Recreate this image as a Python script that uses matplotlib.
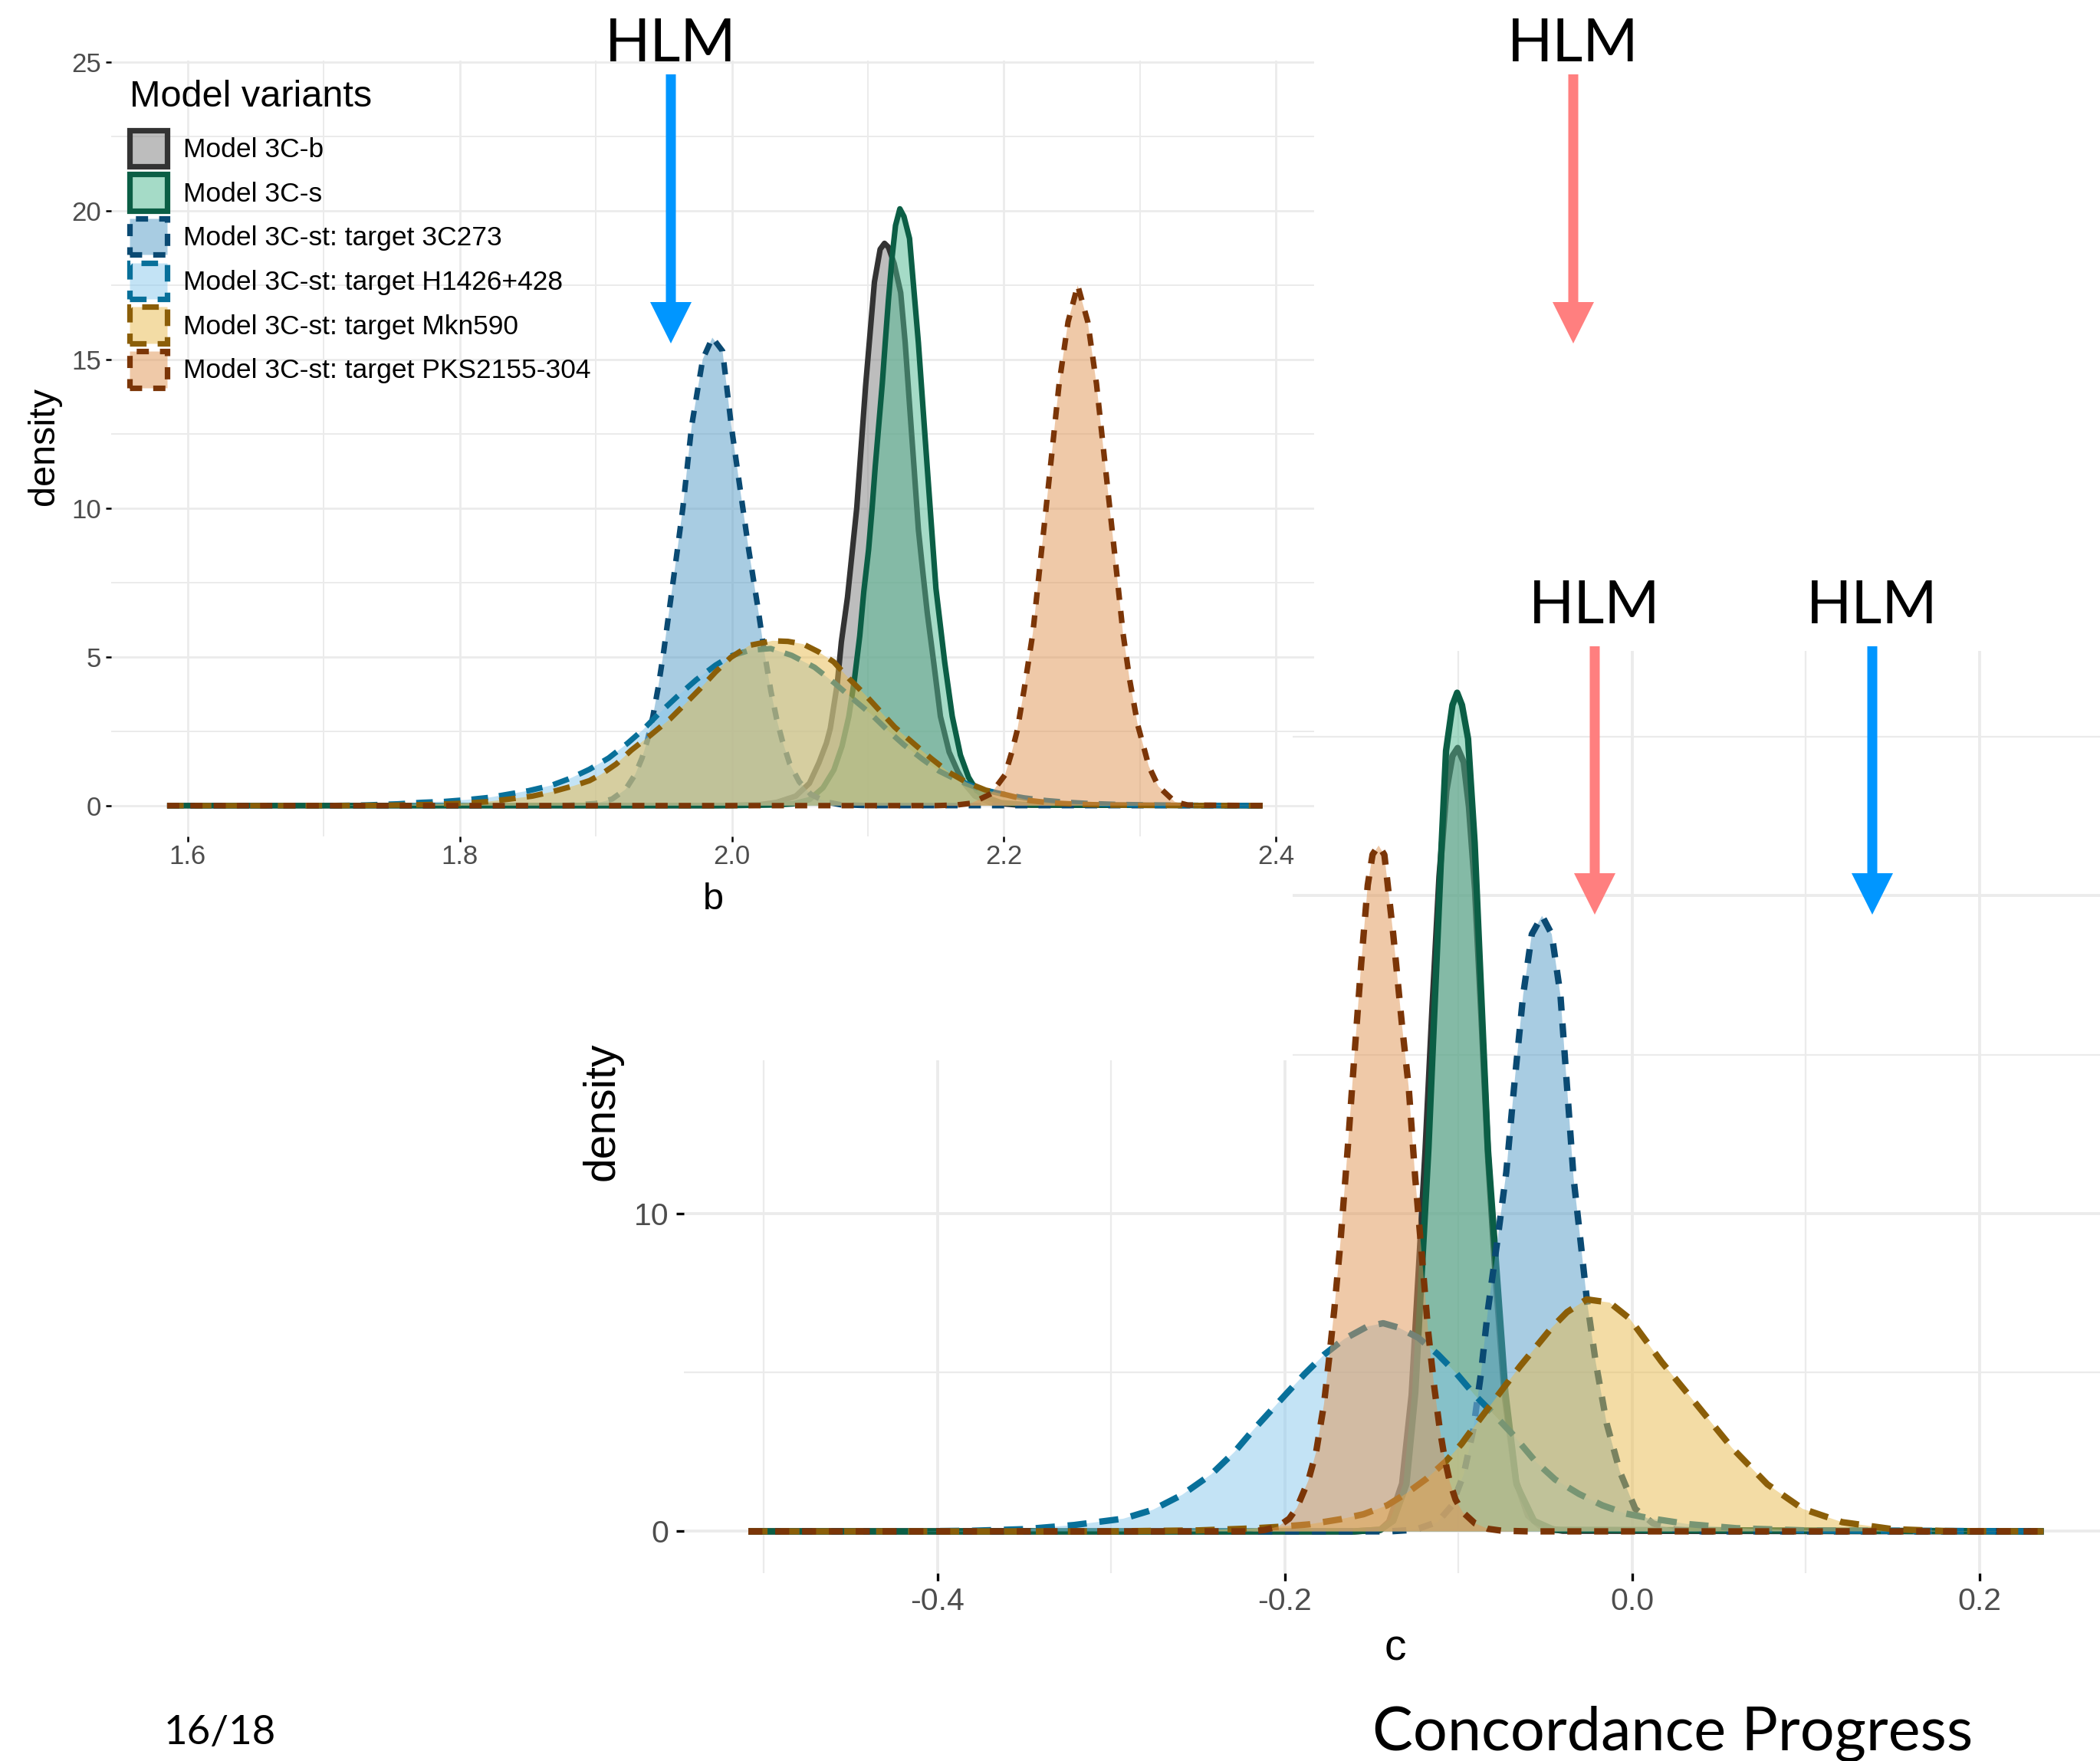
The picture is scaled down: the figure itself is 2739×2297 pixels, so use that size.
import matplotlib
matplotlib.use("Agg")
import matplotlib.pyplot as plt
from matplotlib.patches import Rectangle, FancyArrow, Patch
from matplotlib.ticker import FixedLocator, FixedFormatter
from matplotlib.colors import to_rgba

plt.rcParams['font.family'] = ['Liberation Sans', 'DejaVu Sans']
plt.rcParams['axes.unicode_minus'] = False

W, H, DPI = 2739, 2297, 100

# ---------------- data ----------------
groups = ["Model 3C-b", "Model 3C-s", "Model 3C-st: target 3C273",
          "Model 3C-st: target H1426+428", "Model 3C-st: target Mkn590",
          "Model 3C-st: target PKS2155-304"]

# parameter b densities
b_3Cb_x = [1.585, 1.99, 2.02, 2.033, 2.047, 2.057, 2.064, 2.0695, 2.0724, 2.0775, 2.0805, 2.085, 2.0918, 2.0983,
           2.1048, 2.109, 2.1122, 2.1151, 2.1193, 2.1241, 2.1274, 2.1306, 2.1339, 2.1371, 2.1403, 2.1436, 2.1484,
           2.1533, 2.1597, 2.166, 2.1716, 2.1786, 2.19, 2.21, 2.39]
b_3Cb_y = [0, 0, 0.03, 0.11, 0.32, 0.75, 1.44, 2.1, 2.6, 4.1, 5.5, 7.0, 10.0, 14.1, 17.6, 18.7, 18.9, 18.77, 18.22,
           17.24, 15.56, 13.47, 11.37, 9.28, 7.88, 6.49, 4.8, 3.0, 1.8, 1.15, 0.7, 0.32, 0.1, 0.02, 0]

b_3Cs_x = [1.585, 2.00, 2.030, 2.045, 2.057, 2.067, 2.075, 2.081, 2.086, 2.090, 2.094, 2.097, 2.1005, 2.1031, 2.1054,
           2.108, 2.1106, 2.1128, 2.1151, 2.1177, 2.1203, 2.1235, 2.1265, 2.1306, 2.1371, 2.1436, 2.150, 2.1565,
           2.162, 2.168, 2.174, 2.180, 2.187, 2.198, 2.22, 2.39]
b_3Cs_y = [0, 0, 0.02, 0.06, 0.2, 0.6, 1.2, 2.0, 3.0, 4.2, 5.7, 7.2, 8.6, 10.0, 11.4, 12.8, 14.2, 15.6, 17.0, 18.4,
           19.5, 20.06, 19.8, 19.06, 15.56, 11.37, 7.3, 4.8, 3.0, 1.7, 0.95, 0.5, 0.28, 0.1, 0.02, 0]

b_3C273_x = [1.585, 1.86, 1.88, 1.900, 1.912, 1.922, 1.929, 1.934, 1.938, 1.942, 1.946, 1.950, 1.955, 1.960, 1.964,
             1.9705, 1.9786, 1.9857, 1.9932, 1.9996, 2.006, 2.0125, 2.019, 2.0238, 2.0287, 2.033, 2.037, 2.0426,
             2.0496, 2.058, 2.069, 2.08, 2.10, 2.39]
b_3C273_y = [0, 0, 0.01, 0.07, 0.22, 0.55, 1.05, 1.6, 2.2, 3.0, 4.0, 5.2, 6.9, 8.6, 10.0, 12.77, 15.0, 15.73, 15.28,
             12.77, 10.68, 8.58, 6.7, 5.2, 3.85, 2.9, 2.2, 1.4, 0.8, 0.38, 0.13, 0.03, 0, 0]

b_H1426_x = [1.585, 1.70, 1.73, 1.755, 1.7721, 1.7889, 1.8057, 1.8226, 1.8366, 1.8506, 1.8674, 1.8814, 1.8954,
             1.9095, 1.9235, 1.9347, 1.9459, 1.9599, 1.9739, 1.9880, 1.9992, 2.0132, 2.0286, 2.0440, 2.0608, 2.0749,
             2.0889, 2.1029, 2.1141, 2.1263, 2.1404, 2.1524, 2.1665, 2.1826, 2.1987, 2.2148, 2.2309, 2.2470, 2.2631,
             2.2832, 2.31, 2.34, 2.39]
b_H1426_y = [0, 0, 0.02, 0.06, 0.11, 0.14, 0.2, 0.28, 0.39, 0.5, 0.68, 0.92, 1.22, 1.6, 2.1, 2.55, 3.07, 3.67, 4.23,
             4.72, 5.03, 5.22, 5.28, 5.05, 4.65, 4.14, 3.59, 3.05, 2.55, 2.05, 1.55, 1.16, 0.84, 0.56, 0.39, 0.26,
             0.17, 0.11, 0.07, 0.04, 0.02, 0.01, 0]

b_Mkn590_x = [1.585, 1.70, 1.74, 1.7721, 1.7861, 1.8029, 1.8198, 1.8366, 1.8534, 1.8674, 1.8842, 1.8954, 1.9039,
              1.9151, 1.9263, 1.9403, 1.9543, 1.9655, 1.9767, 1.9880, 1.9992, 2.0132, 2.0300, 2.0412, 2.0524, 2.0637,
              2.0749, 2.0861, 2.0973, 2.1085, 2.1197, 2.1343, 2.1464, 2.1595, 2.1726, 2.1866, 2.2028, 2.2189, 2.2349,
              2.2531, 2.2732, 2.30, 2.39]
b_Mkn590_y = [0, 0, 0.01, 0.03, 0.05, 0.08, 0.13, 0.22, 0.32, 0.46, 0.67, 0.84, 1.05, 1.4, 1.87, 2.37, 2.9, 3.41,
              3.93, 4.49, 4.98, 5.39, 5.54, 5.52, 5.43, 5.17, 4.83, 4.27, 3.76, 3.2, 2.64, 2.06, 1.59, 1.12, 0.78,
              0.52, 0.35, 0.17, 0.09, 0.05, 0.02, 0.01, 0]

b_PKS_x = [1.585, 2.15, 2.165, 2.176, 2.1905, 2.2007, 2.2058, 2.2098, 2.2148, 2.2212, 2.226, 2.2309, 2.2357, 2.2405,
           2.2471, 2.2542, 2.2616, 2.268, 2.2729, 2.2778, 2.2827, 2.2875, 2.2923, 2.2983, 2.3024, 2.3064, 2.3134,
           2.3255, 2.335, 2.39]
b_PKS_y = [0, 0, 0.02, 0.08, 0.4, 1.03, 1.81, 2.54, 3.9, 5.79, 7.88, 9.98, 12.07, 14.17, 16.26, 17.49, 16.26, 14.17,
           12.07, 9.98, 7.88, 5.79, 4.25, 2.71, 2.02, 1.33, 0.65, 0.13, 0.02, 0]

# parameter c densities
c_3Cb_x = [-0.509, -0.16, -0.145, -0.14, -0.1325, -0.127, -0.123, -0.119, -0.115, -0.111, -0.107, -0.1035, -0.1005,
           -0.097, -0.094, -0.0905, -0.0869, -0.083, -0.0785, -0.0735, -0.067, -0.06, -0.052, -0.04, 0.237]
c_3Cb_y = [0, 0, 0.05, 0.3, 1.5, 4.3, 8.1, 12.0, 16.5, 20.6, 23.3, 24.4, 24.65, 24.2, 22.8, 20.2, 16.3, 11.8, 7.9,
           4.3, 1.6, 0.5, 0.12, 0.02, 0]

c_3Cs_x = [-0.509, -0.16, -0.145, -0.1376, -0.13, -0.1249, -0.1211, -0.1173, -0.1135, -0.1097, -0.1072, -0.1035,
           -0.1008, -0.098, -0.0945, -0.0907, -0.0869, -0.0831, -0.0781, -0.073, -0.0666, -0.0565, -0.045, 0.237]
c_3Cs_y = [0, 0, 0.05, 0.33, 1.48, 4.37, 8.21, 12.06, 16.87, 21.67, 24.56, 26.0, 26.39, 26.0, 24.94, 21.67, 16.87,
           12.06, 8.21, 4.37, 1.48, 0.33, 0.05, 0]

c_3C273_x = [-0.509, -0.14, -0.125, -0.112, -0.104, -0.097, -0.0915, -0.087, -0.083, -0.0775, -0.0725, -0.068,
             -0.0628, -0.0578, -0.0519, -0.0463, -0.0413, -0.0375, -0.0337, -0.0298, -0.026, -0.021, -0.0147,
             -0.007, 0.0018, 0.012, 0.025, 0.04, 0.237]
c_3C273_y = [0, 0, 0.05, 0.3, 0.8, 1.8, 3.2, 5.0, 7.0, 9.2, 11.3, 13.98, 16.87, 18.79, 19.37, 18.79, 16.87, 13.98,
             11.1, 9.17, 7.25, 5.33, 3.4, 1.87, 0.71, 0.25, 0.05, 0, 0]

c_H1426_x = [-0.509, -0.42, -0.38, -0.35, -0.3214, -0.293, -0.276, -0.2592, -0.2423, -0.229, -0.2189, -0.2087,
             -0.1997, -0.1885, -0.1772, -0.1659, -0.1524, -0.1434, -0.1344, -0.1231, -0.1119, -0.1017, -0.0905,
             -0.0803, -0.0691, -0.0555, -0.0443, -0.0307, -0.0172, -0.0037, 0.0094, 0.0322, 0.06, 0.10, 0.237]
c_H1426_y = [0, 0, 0.02, 0.07, 0.2, 0.4, 0.68, 1.15, 1.8, 2.5, 3.15, 3.76, 4.3, 4.96, 5.57, 6.05, 6.45, 6.55, 6.41,
             6.09, 5.57, 5.0, 4.28, 3.72, 3.07, 2.19, 1.63, 1.18, 0.82, 0.56, 0.42, 0.23, 0.1, 0.03, 0]

c_Mkn590_x = [-0.509, -0.30, -0.25, -0.22, -0.2042, -0.1862, -0.1682, -0.1547, -0.1411, -0.1299, -0.1186, -0.1074,
              -0.0983, -0.0916, -0.0826, -0.0736, -0.0645, -0.0555, -0.0465, -0.0375, -0.0262, -0.013, -0.0015,
              0.017, 0.0373, 0.0575, 0.0779, 0.0982, 0.121, 0.15, 0.18, 0.237]
c_Mkn590_y = [0, 0, 0.03, 0.09, 0.14, 0.22, 0.38, 0.54, 0.82, 1.2, 1.65, 2.2, 2.75, 3.25, 3.9, 4.55, 5.2, 5.8, 6.4,
              6.9, 7.3, 7.2, 6.7, 5.33, 3.98, 2.63, 1.48, 0.71, 0.29, 0.07, 0.01, 0]

c_PKS_x = [-0.509, -0.22, -0.212, -0.204, -0.1975, -0.193, -0.1865, -0.182, -0.1775, -0.1742, -0.1715, -0.168,
           -0.1638, -0.16, -0.1561, -0.1523, -0.1495, -0.146, -0.1427, -0.1376, -0.1325, -0.1287, -0.1249, -0.121,
           -0.1175, -0.1141, -0.111, -0.108, -0.105, -0.1017, -0.0975, -0.0905, -0.083, -0.075, -0.06, 0.237]
c_PKS_y = [0, 0, 0.04, 0.15, 0.4, 0.75, 1.6, 2.5, 4.0, 5.6, 7.0, 9.1, 12.06, 14.94, 17.83, 20.33, 21.3, 21.58, 21.29,
           18.79, 15.9, 13.98, 11.1, 8.6, 6.3, 4.6, 3.3, 2.3, 1.55, 1.0, 0.6, 0.25, 0.08, 0.02, 0, 0]

b_ticks = [1.6, 1.8, 2.0, 2.2, 2.4]
b_tick_labels = ["1.6", "1.8", "2.0", "2.2", "2.4"]
b_minor = [1.7, 1.9, 2.1, 2.3]
b_dens_ticks = [0, 5, 10, 15, 20, 25]
b_dens_labels = ["0", "5", "10", "15", "20", "25"]
b_dens_minor = [2.5, 7.5, 12.5, 17.5, 22.5]

c_ticks = [-0.4, -0.2, 0.0, 0.2]
c_tick_labels = ["-0.4", "-0.2", "0.0", "0.2"]
c_minor = [-0.5, -0.3, -0.1, 0.1]
c_dens_ticks = [0, 10, 20]
c_dens_labels = ["0", "10", "20"]
c_dens_minor = [5, 15, 25]

# ---------------- styles ----------------
line_colors = ["#333333", "#0B5E45", "#0A4A73", "#08709A", "#8B5E08", "#7B3507"]
fill_colors = ["#7D7D7D", "#4DB991", "#539BC7", "#89C9ED", "#E9BB4D", "#E19553"]
DOT = (0, (2.2, 2.0))
DASH = (0, (3.0, 2.0))
line_styles = ["solid", "solid", DOT, DASH, DASH, DOT]
GRID = "#EBEBEB"
TICKLAB = "#4D4D4D"
LW_B = 5.2
LW_C = 6.0

fig = plt.figure(figsize=(W / DPI, H / DPI), dpi=DPI)
fig.patch.set_facecolor("white")


def px_rect(left, top, right, bottom):
    return [left / W, 1 - bottom / H, (right - left) / W, (bottom - top) / H]


def draw_densities(ax, xs, ys, lw):
    for i, (x, y) in enumerate(zip(xs, ys)):
        ax.fill_between(x, 0, y, facecolor=fill_colors[i], alpha=0.5, linewidth=0, zorder=2 + 2 * i)
        ax.plot(x, y, color=line_colors[i], lw=lw, linestyle=line_styles[i], zorder=3 + 2 * i,
                solid_joinstyle="round", dash_capstyle="butt", solid_capstyle="butt")


def style_axes(ax, xt, xl, xm, yt, yl, ym, fs, gmaj, gmin, tlen, tw, padx, pady):
    for s in ax.spines.values():
        s.set_visible(False)
    ax.xaxis.set_major_locator(FixedLocator(xt))
    ax.xaxis.set_major_formatter(FixedFormatter(xl))
    ax.xaxis.set_minor_locator(FixedLocator(xm))
    ax.yaxis.set_major_locator(FixedLocator(yt))
    ax.yaxis.set_major_formatter(FixedFormatter(yl))
    ax.yaxis.set_minor_locator(FixedLocator(ym))
    ax.grid(which="major", color=GRID, lw=gmaj)
    ax.grid(which="minor", color=GRID, lw=gmin)
    ax.set_axisbelow(True)
    ax.tick_params(which="major", length=tlen, width=tw, color="black", labelcolor=TICKLAB, labelsize=fs)
    ax.tick_params(which="minor", length=0)
    ax.tick_params(axis="x", which="major", pad=padx)
    ax.tick_params(axis="y", which="major", pad=pady)


# ---------------- bottom panel (c) ----------------
ax_c = fig.add_axes(px_rect(891.6, 848.8, 2750, 2052.2))
ax_c.set_zorder(1)
draw_densities(ax_c, [c_3Cb_x, c_3Cs_x, c_3C273_x, c_H1426_x, c_Mkn590_x, c_PKS_x],
               [c_3Cb_y, c_3Cs_y, c_3C273_y, c_H1426_y, c_Mkn590_y, c_PKS_y], lw=LW_C)
ax_c.set_xlim(-0.5463, 0.2743)
ax_c.set_ylim(-1.32, 27.71)
style_axes(ax_c, c_ticks, c_tick_labels, c_minor, c_dens_ticks, c_dens_labels, c_dens_minor,
           fs=29.5, gmaj=2.7, gmin=1.6, tlen=7, tw=2.4, padx=5.5, pady=7)
ax_c.set_xlabel("c", fontsize=41, color="black")
ax_c.xaxis.set_label_coords(0.4996, -0.0815)
ax_c.xaxis.label.set_verticalalignment("center")
ax_c.set_ylabel("density", fontsize=41, color="black")
ax_c.yaxis.set_label_coords(-0.0568, 0.5005)
ax_c.yaxis.label.set_verticalalignment("center")

# white area of the pasted upper chart (covers the top-left of the lower chart)
fig.add_artist(Rectangle((0, 1 - 1340 / H), 891 / W, 1340 / H, transform=fig.transFigure,
                         facecolor="white", edgecolor="none", zorder=2))
fig.add_artist(Rectangle((890 / W, 1 - 1383 / H), (1686 - 890) / W, 1383 / H, transform=fig.transFigure,
                         facecolor="white", edgecolor="none", zorder=2))

# ---------------- top panel (b) ----------------
ax_b = fig.add_axes(px_rect(145, 79.1, 1713.6, 1091))
ax_b.set_zorder(3)
ax_b.patch.set_alpha(0)
draw_densities(ax_b, [b_3Cb_x, b_3Cs_x, b_3C273_x, b_H1426_x, b_Mkn590_x, b_PKS_x],
               [b_3Cb_y, b_3Cs_y, b_3C273_y, b_H1426_y, b_Mkn590_y, b_PKS_y], lw=LW_B)
ax_b.set_xlim(1.5439, 2.4277)
ax_b.set_ylim(-1.035, 25.04)
style_axes(ax_b, b_ticks, b_tick_labels, b_minor, b_dens_ticks, b_dens_labels, b_dens_minor,
           fs=25, gmaj=2.0, gmin=1.4, tlen=5, tw=1.8, padx=2.5, pady=4.5)
ax_b.set_xlabel("b", fontsize=35, color="black")
ax_b.xaxis.set_label_coords(0.501, -0.082)
ax_b.xaxis.label.set_verticalalignment("center")
ax_b.set_ylabel("density", fontsize=35, color="black")
ax_b.yaxis.set_label_coords(-0.0557, 0.5034)
ax_b.yaxis.label.set_verticalalignment("center")

handles = [Patch(facecolor=to_rgba(fill_colors[i], 0.5), edgecolor=line_colors[i], linewidth=LW_B,
                 linestyle=line_styles[i], label=groups[i]) for i in range(len(groups))]
leg = ax_b.legend(handles=handles, title="Model variants", loc="upper left",
                  bbox_to_anchor=(169 / W, 1 - 104 / H), bbox_transform=fig.transFigure, frameon=False,
                  fontsize=25.5, title_fontsize=35, handlelength=1.395, handleheight=1.683, handletextpad=0.57,
                  labelspacing=0.291, borderpad=0, borderaxespad=0, alignment="left")
# a little more room between the legend title and the keys
leg._legend_box.sep = 14.8

# ---------------- slide annotations ----------------
BLUE = "#0096FF"
RED = "#FF7F7F"


def hlm_arrow(xc, y_top, y_tip, color, y_text):
    fig.add_artist(FancyArrow(xc / DPI, (H - y_top) / DPI, 0, -(y_tip - y_top) / DPI, width=13 / DPI,
                              head_width=54 / DPI, head_length=54 / DPI, length_includes_head=True,
                              transform=fig.dpi_scale_trans, facecolor=color, edgecolor="none", zorder=10))
    fig.text(xc / W, 1 - y_text / H, "HLM", ha="center", va="baseline", fontsize=56,
             family=["Lato", "DejaVu Sans"], color="black", zorder=10)


hlm_arrow(875, 97, 448, BLUE, 80)
hlm_arrow(2052, 97, 448, RED, 80)
hlm_arrow(2080, 843, 1193, RED, 813)
hlm_arrow(2442, 843, 1193, BLUE, 813)

fig.text(214 / W, 1 - 2275 / H, "16/18", ha="left", va="baseline", fontsize=38,
         family=["Lato", "DejaVu Sans"], color="black")
fig.text(1790 / W, 1 - 2282 / H, "Concordance Progress", ha="left", va="baseline", fontsize=57,
         family=["Lato", "DejaVu Sans"], color="black")

fig.savefig("out.png", dpi=DPI, facecolor="white")
